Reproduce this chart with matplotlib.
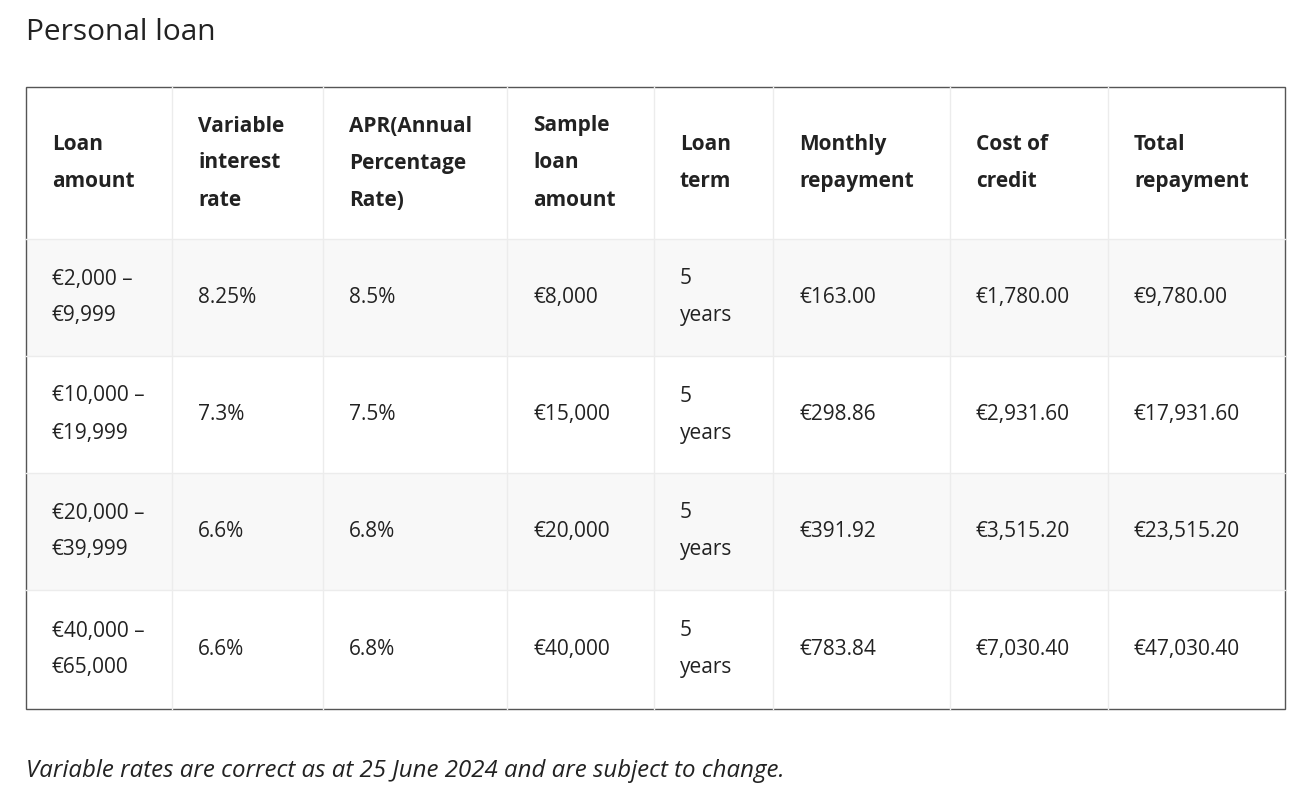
import matplotlib
matplotlib.use("Agg")
import matplotlib.pyplot as plt
from matplotlib.patches import Rectangle

title = "Personal loan"
headers = ["Loan\namount", "Variable\ninterest\nrate", "APR(Annual\nPercentage\nRate)", "Sample\nloan\namount",
           "Loan\nterm", "Monthly\nrepayment", "Cost of\ncredit", "Total\nrepayment"]
loan_amount = ["€2,000 –\n€9,999", "€10,000 –\n€19,999", "€20,000 –\n€39,999", "€40,000 –\n€65,000"]
variable_rate = ["8.25%", "7.3%", "6.6%", "6.6%"]
apr = ["8.5%", "7.5%", "6.8%", "6.8%"]
sample_amount = ["€8,000", "€15,000", "€20,000", "€40,000"]
loan_term = ["5\nyears"] * 4
monthly = ["€163.00", "€298.86", "€391.92", "€783.84"]
cost_credit = ["€1,780.00", "€2,931.60", "€3,515.20", "€7,030.40"]
total = ["€9,780.00", "€17,931.60", "€23,515.20", "€47,030.40"]
footnote = "Variable rates are correct as at 25 June 2024 and are subject to change."

cols = [loan_amount, variable_rate, apr, sample_amount, loan_term, monthly, cost_credit, total]
col_x = [26, 172, 323, 507, 654, 773, 950, 1108, 1285]
row_y = [87, 239, 356, 473, 590, 709]

plt.rcParams['font.family'] = ['Open Sans', 'DejaVu Sans']
fig = plt.figure(figsize=(13.07, 7.98), dpi=100)
ax = fig.add_axes([0, 0, 1, 1])
ax.set_xlim(0, 1307); ax.set_ylim(798, 0); ax.axis('off')

tc = '#222222'
ax.text(26, 33, title, fontsize=21.5, color=tc, va='center', ha='left')

for r in range(5):
    fc = '#f8f8f8' if r in (1, 3) else 'white'
    ax.add_patch(Rectangle((26, row_y[r]), 1259, row_y[r+1]-row_y[r], fc=fc, ec='none'))
for x in col_x[1:-1]:
    ax.plot([x, x], [87, 709], color='#ececec', lw=1)
for y in row_y[1:-1]:
    ax.plot([26, 1285], [y, y], color='#ececec', lw=1)
ax.add_patch(Rectangle((26, 87), 1259, 622, fc='none', ec='#555555', lw=1))

for c, h in enumerate(headers):
    ax.text(col_x[c]+26, (row_y[0]+row_y[1])/2, h, fontsize=15, fontweight='bold',
            color=tc, va='center', ha='left', linespacing=2.0)
for c, col in enumerate(cols):
    for r, v in enumerate(col):
        ax.text(col_x[c]+26, (row_y[r+1]+row_y[r+2])/2, v, fontsize=15, color=tc,
                va='center', ha='left', linespacing=2.0)

ax.text(26, 771, footnote, fontsize=17.3, style='italic', color=tc, va='center', ha='left')
fig.savefig("out.png", dpi=100)
